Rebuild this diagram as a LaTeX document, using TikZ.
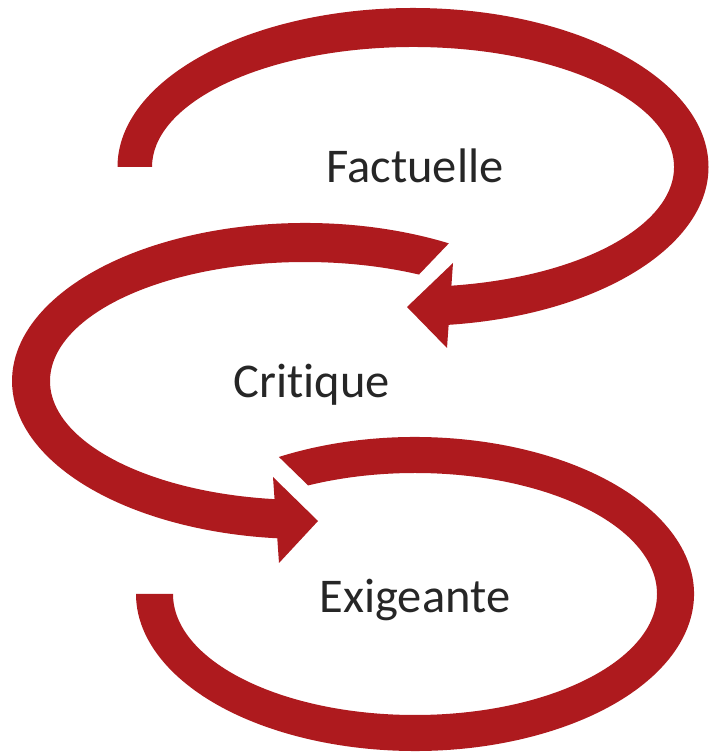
\documentclass[tikz,border=0pt]{standalone}
\usepackage{fontspec}
\setmainfont{Carlito}[Ligatures={NoCommon}]
\usetikzlibrary{calc}
\definecolor{arrred}{RGB}{174,26,30}
\definecolor{txtgray}{RGB}{38,38,38}
\begin{document}
\begin{tikzpicture}[x=1pt,y=1pt,
  band/.style={fill=arrred},
  lbl/.style={text=txtgray, font=\fontsize{48.5}{58}\selectfont, anchor=base, inner sep=0pt}]
\useasboundingbox (0,0) rectangle (709,752);
% top arrow
\coordinate (c1) at (413,585);
\fill[band] ($(c1)+(180:295.5 and 159)$) arc[start angle=180, end angle=-84, x radius=295.5, y radius=159]
  -- ($(c1)+(-82.5:261 and 120)$) arc[start angle=-82.5, end angle=180, x radius=261, y radius=120] -- cycle;
\fill[band] (407,445) -- (453,489) -- (447,404) -- cycle;
% middle arrow
\coordinate (c2) at (305,371);
\fill[band] ($(c2)+(60.6:293 and 158)$) arc[start angle=60.6, end angle=265.5, x radius=293, y radius=158]
  -- ($(c2)+(264.6:255 and 119)$) arc[start angle=264.6, end angle=63.45, x radius=255, y radius=119] -- cycle;
\fill[band] (318,231) -- (273,275) -- (279,189) -- cycle;
% bottom arrow
\coordinate (c3) at (415,158);
\fill[band] ($(c3)+(119.2:279 and 157)$) arc[start angle=119.2, end angle=-180, x radius=279, y radius=157]
  -- ($(c3)+(-180:242 and 121)$) arc[start angle=-180, end angle=116.2, x radius=242, y radius=121] -- cycle;
% labels
\node[lbl] (fact) at (415,569) {Factuelle};
\node[lbl] (crit) at (311.5,354) {Critique};
\node[lbl] (exig) at (415,139) {Exigeante};
\end{tikzpicture}
\end{document}
